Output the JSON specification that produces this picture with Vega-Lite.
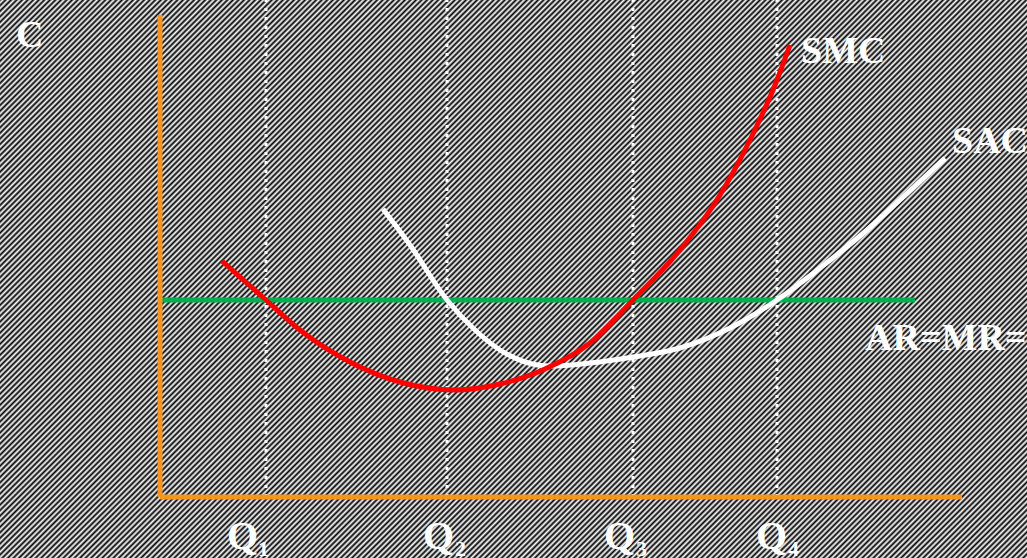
{
  "$schema": "https://vega.github.io/schema/vega-lite/v6.json",
  "width": 1027,
  "height": 558,
  "padding": 0,
  "autosize": "none",
  "background": "#808080",
  "config": {
    "view": {
      "stroke": null,
      "fill": {
        "gradient": "linear",
        "x1": 0, "y1": 0, "x2": 1.1916, "y2": 0.6474,
        "stops": [
{"offset":0,"color":"#000"},{"offset":0.00175,"color":"#fff"},{"offset":0.0035,"color":"#000"},{"offset":0.00525,"color":"#fff"},
{"offset":0.007,"color":"#000"},{"offset":0.00875,"color":"#fff"},{"offset":0.0105,"color":"#000"},{"offset":0.01225,"color":"#fff"},
{"offset":0.014,"color":"#000"},{"offset":0.01575,"color":"#fff"},{"offset":0.0175,"color":"#000"},{"offset":0.01925,"color":"#fff"},
{"offset":0.021,"color":"#000"},{"offset":0.02275,"color":"#fff"},{"offset":0.0245,"color":"#000"},{"offset":0.02625,"color":"#fff"},
{"offset":0.028,"color":"#000"},{"offset":0.02975,"color":"#fff"},{"offset":0.0315,"color":"#000"},{"offset":0.03325,"color":"#fff"},
{"offset":0.035,"color":"#000"},{"offset":0.03675,"color":"#fff"},{"offset":0.0385,"color":"#000"},{"offset":0.04025,"color":"#fff"},
{"offset":0.042,"color":"#000"},{"offset":0.04375,"color":"#fff"},{"offset":0.0455,"color":"#000"},{"offset":0.04725,"color":"#fff"},
{"offset":0.049,"color":"#000"},{"offset":0.05075,"color":"#fff"},{"offset":0.0525,"color":"#000"},{"offset":0.05425,"color":"#fff"},
{"offset":0.056,"color":"#000"},{"offset":0.05775,"color":"#fff"},{"offset":0.0595,"color":"#000"},{"offset":0.06125,"color":"#fff"},
{"offset":0.063,"color":"#000"},{"offset":0.06475,"color":"#fff"},{"offset":0.0665,"color":"#000"},{"offset":0.06825,"color":"#fff"},
{"offset":0.07,"color":"#000"},{"offset":0.07175,"color":"#fff"},{"offset":0.0735,"color":"#000"},{"offset":0.07525,"color":"#fff"},
{"offset":0.077,"color":"#000"},{"offset":0.07875,"color":"#fff"},{"offset":0.0805,"color":"#000"},{"offset":0.08225,"color":"#fff"},
{"offset":0.084,"color":"#000"},{"offset":0.08575,"color":"#fff"},{"offset":0.0875,"color":"#000"},{"offset":0.08925,"color":"#fff"},
{"offset":0.091,"color":"#000"},{"offset":0.09275,"color":"#fff"},{"offset":0.0945,"color":"#000"},{"offset":0.09625,"color":"#fff"},
{"offset":0.098,"color":"#000"},{"offset":0.09975,"color":"#fff"},{"offset":0.1015,"color":"#000"},{"offset":0.10325,"color":"#fff"},
{"offset":0.105,"color":"#000"},{"offset":0.10675,"color":"#fff"},{"offset":0.1085,"color":"#000"},{"offset":0.11025,"color":"#fff"},
{"offset":0.112,"color":"#000"},{"offset":0.11375,"color":"#fff"},{"offset":0.1155,"color":"#000"},{"offset":0.11725,"color":"#fff"},
{"offset":0.119,"color":"#000"},{"offset":0.12075,"color":"#fff"},{"offset":0.1225,"color":"#000"},{"offset":0.12425,"color":"#fff"},
{"offset":0.126,"color":"#000"},{"offset":0.12775,"color":"#fff"},{"offset":0.1295,"color":"#000"},{"offset":0.13125,"color":"#fff"},
{"offset":0.133,"color":"#000"},{"offset":0.13475,"color":"#fff"},{"offset":0.1365,"color":"#000"},{"offset":0.13825,"color":"#fff"},
{"offset":0.14,"color":"#000"},{"offset":0.14175,"color":"#fff"},{"offset":0.1435,"color":"#000"},{"offset":0.14525,"color":"#fff"},
{"offset":0.147,"color":"#000"},{"offset":0.14875,"color":"#fff"},{"offset":0.1505,"color":"#000"},{"offset":0.15225,"color":"#fff"},
{"offset":0.154,"color":"#000"},{"offset":0.15575,"color":"#fff"},{"offset":0.1575,"color":"#000"},{"offset":0.15925,"color":"#fff"},
{"offset":0.161,"color":"#000"},{"offset":0.16275,"color":"#fff"},{"offset":0.1645,"color":"#000"},{"offset":0.16625,"color":"#fff"},
{"offset":0.168,"color":"#000"},{"offset":0.16975,"color":"#fff"},{"offset":0.1715,"color":"#000"},{"offset":0.17325,"color":"#fff"},
{"offset":0.175,"color":"#000"},{"offset":0.17675,"color":"#fff"},{"offset":0.1785,"color":"#000"},{"offset":0.18025,"color":"#fff"},
{"offset":0.182,"color":"#000"},{"offset":0.18375,"color":"#fff"},{"offset":0.1855,"color":"#000"},{"offset":0.18725,"color":"#fff"},
{"offset":0.189,"color":"#000"},{"offset":0.19075,"color":"#fff"},{"offset":0.1925,"color":"#000"},{"offset":0.19425,"color":"#fff"},
{"offset":0.196,"color":"#000"},{"offset":0.19775,"color":"#fff"},{"offset":0.1995,"color":"#000"},{"offset":0.20125,"color":"#fff"},
{"offset":0.203,"color":"#000"},{"offset":0.20475,"color":"#fff"},{"offset":0.2065,"color":"#000"},{"offset":0.20825,"color":"#fff"},
{"offset":0.21,"color":"#000"},{"offset":0.21175,"color":"#fff"},{"offset":0.2135,"color":"#000"},{"offset":0.21525,"color":"#fff"},
{"offset":0.217,"color":"#000"},{"offset":0.21875,"color":"#fff"},{"offset":0.2205,"color":"#000"},{"offset":0.22225,"color":"#fff"},
{"offset":0.224,"color":"#000"},{"offset":0.22575,"color":"#fff"},{"offset":0.2275,"color":"#000"},{"offset":0.22925,"color":"#fff"},
{"offset":0.231,"color":"#000"},{"offset":0.23275,"color":"#fff"},{"offset":0.2345,"color":"#000"},{"offset":0.23625,"color":"#fff"},
{"offset":0.238,"color":"#000"},{"offset":0.23975,"color":"#fff"},{"offset":0.2415,"color":"#000"},{"offset":0.24325,"color":"#fff"},
{"offset":0.245,"color":"#000"},{"offset":0.24675,"color":"#fff"},{"offset":0.2485,"color":"#000"},{"offset":0.25025,"color":"#fff"},
{"offset":0.252,"color":"#000"},{"offset":0.25375,"color":"#fff"},{"offset":0.2555,"color":"#000"},{"offset":0.25725,"color":"#fff"},
{"offset":0.259,"color":"#000"},{"offset":0.26075,"color":"#fff"},{"offset":0.2625,"color":"#000"},{"offset":0.26425,"color":"#fff"},
{"offset":0.266,"color":"#000"},{"offset":0.26775,"color":"#fff"},{"offset":0.2695,"color":"#000"},{"offset":0.27125,"color":"#fff"},
{"offset":0.273,"color":"#000"},{"offset":0.27475,"color":"#fff"},{"offset":0.2765,"color":"#000"},{"offset":0.27825,"color":"#fff"},
{"offset":0.28,"color":"#000"},{"offset":0.28175,"color":"#fff"},{"offset":0.2835,"color":"#000"},{"offset":0.28525,"color":"#fff"},
{"offset":0.287,"color":"#000"},{"offset":0.28875,"color":"#fff"},{"offset":0.2905,"color":"#000"},{"offset":0.29225,"color":"#fff"},
{"offset":0.294,"color":"#000"},{"offset":0.29575,"color":"#fff"},{"offset":0.2975,"color":"#000"},{"offset":0.29925,"color":"#fff"},
{"offset":0.301,"color":"#000"},{"offset":0.30275,"color":"#fff"},{"offset":0.3045,"color":"#000"},{"offset":0.30625,"color":"#fff"},
{"offset":0.308,"color":"#000"},{"offset":0.30975,"color":"#fff"},{"offset":0.3115,"color":"#000"},{"offset":0.31325,"color":"#fff"},
{"offset":0.315,"color":"#000"},{"offset":0.31675,"color":"#fff"},{"offset":0.3185,"color":"#000"},{"offset":0.32025,"color":"#fff"},
{"offset":0.322,"color":"#000"},{"offset":0.32375,"color":"#fff"},{"offset":0.3255,"color":"#000"},{"offset":0.32725,"color":"#fff"},
{"offset":0.329,"color":"#000"},{"offset":0.33075,"color":"#fff"},{"offset":0.3325,"color":"#000"},{"offset":0.33425,"color":"#fff"},
{"offset":0.336,"color":"#000"},{"offset":0.33775,"color":"#fff"},{"offset":0.3395,"color":"#000"},{"offset":0.34125,"color":"#fff"},
{"offset":0.343,"color":"#000"},{"offset":0.34475,"color":"#fff"},{"offset":0.3465,"color":"#000"},{"offset":0.34825,"color":"#fff"},
{"offset":0.35,"color":"#000"},{"offset":0.35175,"color":"#fff"},{"offset":0.3535,"color":"#000"},{"offset":0.35525,"color":"#fff"},
{"offset":0.357,"color":"#000"},{"offset":0.35875,"color":"#fff"},{"offset":0.3605,"color":"#000"},{"offset":0.36225,"color":"#fff"},
{"offset":0.364,"color":"#000"},{"offset":0.36575,"color":"#fff"},{"offset":0.3675,"color":"#000"},{"offset":0.36925,"color":"#fff"},
{"offset":0.371,"color":"#000"},{"offset":0.37275,"color":"#fff"},{"offset":0.3745,"color":"#000"},{"offset":0.37625,"color":"#fff"},
{"offset":0.378,"color":"#000"},{"offset":0.37975,"color":"#fff"},{"offset":0.3815,"color":"#000"},{"offset":0.38325,"color":"#fff"},
{"offset":0.385,"color":"#000"},{"offset":0.38675,"color":"#fff"},{"offset":0.3885,"color":"#000"},{"offset":0.39025,"color":"#fff"},
{"offset":0.392,"color":"#000"},{"offset":0.39375,"color":"#fff"},{"offset":0.3955,"color":"#000"},{"offset":0.39725,"color":"#fff"},
{"offset":0.399,"color":"#000"},{"offset":0.40075,"color":"#fff"},{"offset":0.4025,"color":"#000"},{"offset":0.40425,"color":"#fff"},
{"offset":0.406,"color":"#000"},{"offset":0.40775,"color":"#fff"},{"offset":0.4095,"color":"#000"},{"offset":0.41125,"color":"#fff"},
{"offset":0.413,"color":"#000"},{"offset":0.41475,"color":"#fff"},{"offset":0.4165,"color":"#000"},{"offset":0.41825,"color":"#fff"},
{"offset":0.42,"color":"#000"},{"offset":0.42175,"color":"#fff"},{"offset":0.4235,"color":"#000"},{"offset":0.42525,"color":"#fff"},
{"offset":0.427,"color":"#000"},{"offset":0.42875,"color":"#fff"},{"offset":0.4305,"color":"#000"},{"offset":0.43225,"color":"#fff"},
{"offset":0.434,"color":"#000"},{"offset":0.43575,"color":"#fff"},{"offset":0.4375,"color":"#000"},{"offset":0.43925,"color":"#fff"},
{"offset":0.441,"color":"#000"},{"offset":0.44275,"color":"#fff"},{"offset":0.4445,"color":"#000"},{"offset":0.44625,"color":"#fff"},
{"offset":0.448,"color":"#000"},{"offset":0.44975,"color":"#fff"},{"offset":0.4515,"color":"#000"},{"offset":0.45325,"color":"#fff"},
{"offset":0.455,"color":"#000"},{"offset":0.45675,"color":"#fff"},{"offset":0.4585,"color":"#000"},{"offset":0.46025,"color":"#fff"},
{"offset":0.462,"color":"#000"},{"offset":0.46375,"color":"#fff"},{"offset":0.4655,"color":"#000"},{"offset":0.46725,"color":"#fff"},
{"offset":0.469,"color":"#000"},{"offset":0.47075,"color":"#fff"},{"offset":0.4725,"color":"#000"},{"offset":0.47425,"color":"#fff"},
{"offset":0.476,"color":"#000"},{"offset":0.47775,"color":"#fff"},{"offset":0.4795,"color":"#000"},{"offset":0.48125,"color":"#fff"},
{"offset":0.483,"color":"#000"},{"offset":0.48475,"color":"#fff"},{"offset":0.4865,"color":"#000"},{"offset":0.48825,"color":"#fff"},
{"offset":0.49,"color":"#000"},{"offset":0.49175,"color":"#fff"},{"offset":0.4935,"color":"#000"},{"offset":0.49525,"color":"#fff"},
{"offset":0.497,"color":"#000"},{"offset":0.49875,"color":"#fff"},{"offset":0.5005,"color":"#000"},{"offset":0.50225,"color":"#fff"},
{"offset":0.504,"color":"#000"},{"offset":0.50575,"color":"#fff"},{"offset":0.5075,"color":"#000"},{"offset":0.50925,"color":"#fff"},
{"offset":0.511,"color":"#000"},{"offset":0.51275,"color":"#fff"},{"offset":0.5145,"color":"#000"},{"offset":0.51625,"color":"#fff"},
{"offset":0.518,"color":"#000"},{"offset":0.51975,"color":"#fff"},{"offset":0.5215,"color":"#000"},{"offset":0.52325,"color":"#fff"},
{"offset":0.525,"color":"#000"},{"offset":0.52675,"color":"#fff"},{"offset":0.5285,"color":"#000"},{"offset":0.53025,"color":"#fff"},
{"offset":0.532,"color":"#000"},{"offset":0.53375,"color":"#fff"},{"offset":0.5355,"color":"#000"},{"offset":0.53725,"color":"#fff"},
{"offset":0.539,"color":"#000"},{"offset":0.54075,"color":"#fff"},{"offset":0.5425,"color":"#000"},{"offset":0.54425,"color":"#fff"},
{"offset":0.546,"color":"#000"},{"offset":0.54775,"color":"#fff"},{"offset":0.5495,"color":"#000"},{"offset":0.55125,"color":"#fff"},
{"offset":0.553,"color":"#000"},{"offset":0.55475,"color":"#fff"},{"offset":0.5565,"color":"#000"},{"offset":0.55825,"color":"#fff"},
{"offset":0.56,"color":"#000"},{"offset":0.56175,"color":"#fff"},{"offset":0.5635,"color":"#000"},{"offset":0.56525,"color":"#fff"},
{"offset":0.567,"color":"#000"},{"offset":0.56875,"color":"#fff"},{"offset":0.5705,"color":"#000"},{"offset":0.57225,"color":"#fff"},
{"offset":0.574,"color":"#000"},{"offset":0.57575,"color":"#fff"},{"offset":0.5775,"color":"#000"},{"offset":0.57925,"color":"#fff"},
{"offset":0.581,"color":"#000"},{"offset":0.58275,"color":"#fff"},{"offset":0.5845,"color":"#000"},{"offset":0.58625,"color":"#fff"},
{"offset":0.588,"color":"#000"},{"offset":0.58975,"color":"#fff"},{"offset":0.5915,"color":"#000"},{"offset":0.59325,"color":"#fff"},
{"offset":0.595,"color":"#000"},{"offset":0.59675,"color":"#fff"},{"offset":0.5985,"color":"#000"},{"offset":0.60025,"color":"#fff"},
{"offset":0.602,"color":"#000"},{"offset":0.60375,"color":"#fff"},{"offset":0.6055,"color":"#000"},{"offset":0.60725,"color":"#fff"},
{"offset":0.609,"color":"#000"},{"offset":0.61075,"color":"#fff"},{"offset":0.6125,"color":"#000"},{"offset":0.61425,"color":"#fff"},
{"offset":0.616,"color":"#000"},{"offset":0.61775,"color":"#fff"},{"offset":0.6195,"color":"#000"},{"offset":0.62125,"color":"#fff"},
{"offset":0.623,"color":"#000"},{"offset":0.62475,"color":"#fff"},{"offset":0.6265,"color":"#000"},{"offset":0.62825,"color":"#fff"},
{"offset":0.63,"color":"#000"},{"offset":0.63175,"color":"#fff"},{"offset":0.6335,"color":"#000"},{"offset":0.63525,"color":"#fff"},
{"offset":0.637,"color":"#000"},{"offset":0.63875,"color":"#fff"},{"offset":0.6405,"color":"#000"},{"offset":0.64225,"color":"#fff"},
{"offset":0.644,"color":"#000"},{"offset":0.64575,"color":"#fff"},{"offset":0.6475,"color":"#000"},{"offset":0.64925,"color":"#fff"},
{"offset":0.651,"color":"#000"},{"offset":0.65275,"color":"#fff"},{"offset":0.6545,"color":"#000"},{"offset":0.65625,"color":"#fff"},
{"offset":0.658,"color":"#000"},{"offset":0.65975,"color":"#fff"},{"offset":0.6615,"color":"#000"},{"offset":0.66325,"color":"#fff"},
{"offset":0.665,"color":"#000"},{"offset":0.66675,"color":"#fff"},{"offset":0.6685,"color":"#000"},{"offset":0.67025,"color":"#fff"},
{"offset":0.672,"color":"#000"},{"offset":0.67375,"color":"#fff"},{"offset":0.6755,"color":"#000"},{"offset":0.67725,"color":"#fff"},
{"offset":0.679,"color":"#000"},{"offset":0.68075,"color":"#fff"},{"offset":0.6825,"color":"#000"},{"offset":0.68425,"color":"#fff"},
{"offset":0.686,"color":"#000"},{"offset":0.68775,"color":"#fff"},{"offset":0.6895,"color":"#000"},{"offset":0.69125,"color":"#fff"},
{"offset":0.693,"color":"#000"},{"offset":0.69475,"color":"#fff"},{"offset":0.6965,"color":"#000"},{"offset":0.69825,"color":"#fff"},
{"offset":0.7,"color":"#000"},{"offset":0.70175,"color":"#fff"},{"offset":0.7035,"color":"#000"},{"offset":0.70525,"color":"#fff"},
{"offset":0.707,"color":"#000"},{"offset":0.70875,"color":"#fff"},{"offset":0.7105,"color":"#000"},{"offset":0.71225,"color":"#fff"},
{"offset":0.714,"color":"#000"},{"offset":0.71575,"color":"#fff"},{"offset":0.7175,"color":"#000"},{"offset":0.71925,"color":"#fff"},
{"offset":0.721,"color":"#000"},{"offset":0.72275,"color":"#fff"},{"offset":0.7245,"color":"#000"},{"offset":0.72625,"color":"#fff"},
{"offset":0.728,"color":"#000"},{"offset":0.72975,"color":"#fff"},{"offset":0.7315,"color":"#000"},{"offset":0.73325,"color":"#fff"},
{"offset":0.735,"color":"#000"},{"offset":0.73675,"color":"#fff"},{"offset":0.7385,"color":"#000"},{"offset":0.74025,"color":"#fff"},
{"offset":0.742,"color":"#000"},{"offset":0.74375,"color":"#fff"},{"offset":0.7455,"color":"#000"},{"offset":0.74725,"color":"#fff"},
{"offset":0.749,"color":"#000"},{"offset":0.75075,"color":"#fff"},{"offset":0.7525,"color":"#000"},{"offset":0.75425,"color":"#fff"},
{"offset":0.756,"color":"#000"},{"offset":0.75775,"color":"#fff"},{"offset":0.7595,"color":"#000"},{"offset":0.76125,"color":"#fff"},
{"offset":0.763,"color":"#000"},{"offset":0.76475,"color":"#fff"},{"offset":0.7665,"color":"#000"},{"offset":0.76825,"color":"#fff"},
{"offset":0.77,"color":"#000"},{"offset":0.77175,"color":"#fff"},{"offset":0.7735,"color":"#000"},{"offset":0.77525,"color":"#fff"},
{"offset":0.777,"color":"#000"},{"offset":0.77875,"color":"#fff"},{"offset":0.7805,"color":"#000"},{"offset":0.78225,"color":"#fff"},
{"offset":0.784,"color":"#000"},{"offset":0.78575,"color":"#fff"},{"offset":0.7875,"color":"#000"},{"offset":0.78925,"color":"#fff"},
{"offset":0.791,"color":"#000"},{"offset":0.79275,"color":"#fff"},{"offset":0.7945,"color":"#000"},{"offset":0.79625,"color":"#fff"},
{"offset":0.798,"color":"#000"},{"offset":0.79975,"color":"#fff"},{"offset":0.8015,"color":"#000"},{"offset":0.80325,"color":"#fff"},
{"offset":0.805,"color":"#000"},{"offset":0.80675,"color":"#fff"},{"offset":0.8085,"color":"#000"},{"offset":0.81025,"color":"#fff"},
{"offset":0.812,"color":"#000"},{"offset":0.81375,"color":"#fff"},{"offset":0.8155,"color":"#000"},{"offset":0.81725,"color":"#fff"},
{"offset":0.819,"color":"#000"},{"offset":0.82075,"color":"#fff"},{"offset":0.8225,"color":"#000"},{"offset":0.82425,"color":"#fff"},
{"offset":0.826,"color":"#000"},{"offset":0.82775,"color":"#fff"},{"offset":0.8295,"color":"#000"},{"offset":0.83125,"color":"#fff"},
{"offset":0.833,"color":"#000"},{"offset":0.83475,"color":"#fff"},{"offset":0.8365,"color":"#000"},{"offset":0.83825,"color":"#fff"},
{"offset":0.84,"color":"#000"},{"offset":0.84175,"color":"#fff"},{"offset":0.8435,"color":"#000"},{"offset":0.84525,"color":"#fff"},
{"offset":0.847,"color":"#000"},{"offset":0.84875,"color":"#fff"},{"offset":0.8505,"color":"#000"},{"offset":0.85225,"color":"#fff"},
{"offset":0.854,"color":"#000"},{"offset":0.85575,"color":"#fff"},{"offset":0.8575,"color":"#000"},{"offset":0.85925,"color":"#fff"},
{"offset":0.861,"color":"#000"},{"offset":0.86275,"color":"#fff"},{"offset":0.8645,"color":"#000"},{"offset":0.86625,"color":"#fff"},
{"offset":0.868,"color":"#000"},{"offset":0.86975,"color":"#fff"},{"offset":0.8715,"color":"#000"},{"offset":0.87325,"color":"#fff"},
{"offset":0.875,"color":"#000"},{"offset":0.87675,"color":"#fff"},{"offset":0.8785,"color":"#000"},{"offset":0.88025,"color":"#fff"},
{"offset":0.882,"color":"#000"},{"offset":0.88375,"color":"#fff"},{"offset":0.8855,"color":"#000"},{"offset":0.88725,"color":"#fff"},
{"offset":0.889,"color":"#000"},{"offset":0.89075,"color":"#fff"},{"offset":0.8925,"color":"#000"},{"offset":0.89425,"color":"#fff"},
{"offset":0.896,"color":"#000"},{"offset":0.89775,"color":"#fff"},{"offset":0.8995,"color":"#000"},{"offset":0.90125,"color":"#fff"},
{"offset":0.903,"color":"#000"},{"offset":0.90475,"color":"#fff"},{"offset":0.9065,"color":"#000"},{"offset":0.90825,"color":"#fff"},
{"offset":0.91,"color":"#000"},{"offset":0.91175,"color":"#fff"},{"offset":0.9135,"color":"#000"},{"offset":0.91525,"color":"#fff"},
{"offset":0.917,"color":"#000"},{"offset":0.91875,"color":"#fff"},{"offset":0.9205,"color":"#000"},{"offset":0.92225,"color":"#fff"},
{"offset":0.924,"color":"#000"},{"offset":0.92575,"color":"#fff"},{"offset":0.9275,"color":"#000"},{"offset":0.92925,"color":"#fff"},
{"offset":0.931,"color":"#000"},{"offset":0.93275,"color":"#fff"},{"offset":0.9345,"color":"#000"},{"offset":0.93625,"color":"#fff"},
{"offset":0.938,"color":"#000"},{"offset":0.93975,"color":"#fff"},{"offset":0.9415,"color":"#000"},{"offset":0.94325,"color":"#fff"},
{"offset":0.945,"color":"#000"},{"offset":0.94675,"color":"#fff"},{"offset":0.9485,"color":"#000"},{"offset":0.95025,"color":"#fff"},
{"offset":0.952,"color":"#000"},{"offset":0.95375,"color":"#fff"},{"offset":0.9555,"color":"#000"},{"offset":0.95725,"color":"#fff"},
{"offset":0.959,"color":"#000"},{"offset":0.96075,"color":"#fff"},{"offset":0.9625,"color":"#000"},{"offset":0.96425,"color":"#fff"},
{"offset":0.966,"color":"#000"},{"offset":0.96775,"color":"#fff"},{"offset":0.9695,"color":"#000"},{"offset":0.97125,"color":"#fff"},
{"offset":0.973,"color":"#000"},{"offset":0.97475,"color":"#fff"},{"offset":0.9765,"color":"#000"},{"offset":0.97825,"color":"#fff"},
{"offset":0.98,"color":"#000"},{"offset":0.98175,"color":"#fff"},{"offset":0.9835,"color":"#000"},{"offset":0.98525,"color":"#fff"},
{"offset":0.987,"color":"#000"},{"offset":0.98875,"color":"#fff"},{"offset":0.9905,"color":"#000"},{"offset":0.99225,"color":"#fff"},
{"offset":0.994,"color":"#000"},{"offset":0.99575,"color":"#fff"},{"offset":0.9975,"color":"#000"},{"offset":0.99925,"color":"#fff"},
{"offset":1,"color":"#000"}
        ]
      }
    }
  },
  "datasets": {
    "axes": [
      {"x": 0, "y": 0, "x2": 0, "y2": 482},
      {"x": 0, "y": 0, "x2": 802, "y2": 0}
    ],
    "qlines": [{"x": 106}, {"x": 287}, {"x": 473}, {"x": 617}],
    "price": [{"x": 0, "y": 197, "x2": 755}],
    "smc": [
      {"x": 62, "y": 236}, {"x": 106, "y": 197}, {"x": 140, "y": 167},
      {"x": 190, "y": 135}, {"x": 240, "y": 115}, {"x": 295, "y": 107},
      {"x": 340, "y": 113}, {"x": 385, "y": 128}, {"x": 430, "y": 154},
      {"x": 473, "y": 197}, {"x": 520, "y": 247}, {"x": 560, "y": 302},
      {"x": 590, "y": 357}, {"x": 615, "y": 412}, {"x": 630, "y": 452}
    ],
    "sac": [
      {"x": 223, "y": 288}, {"x": 250, "y": 252}, {"x": 287, "y": 197},
      {"x": 315, "y": 167}, {"x": 340, "y": 147}, {"x": 365, "y": 135},
      {"x": 390, "y": 131}, {"x": 430, "y": 134}, {"x": 473, "y": 140},
      {"x": 520, "y": 149}, {"x": 570, "y": 169}, {"x": 617, "y": 197},
      {"x": 660, "y": 229}, {"x": 700, "y": 261}, {"x": 740, "y": 297},
      {"x": 785, "y": 339}
    ],
    "labels": [
      {"label": "C", "x": -144, "y": 450},
      {"label": "SMC", "x": 641, "y": 434},
      {"label": "SAC", "x": 792, "y": 344},
      {"label": "AR=MR=P", "x": 705, "y": 147}
    ],
    "qlabels": [
      {"q": "Q", "sub": "1", "x": 67, "xs": 98},
      {"q": "Q", "sub": "2", "x": 263, "xs": 295},
      {"q": "Q", "sub": "3", "x": 444, "xs": 476},
      {"q": "Q", "sub": "4", "x": 596, "xs": 628}
    ]
  },
  "layer": [
    {
      "data": {"name": "qlines"},
      "mark": {"type": "rule", "color": "#ffffff", "strokeWidth": 3, "strokeDash": [3, 6]},
      "encoding": {
        "x": {"field": "x", "type": "quantitative", "scale": {"domain": [-160, 867], "nice": false, "zero": false}, "axis": null},
        "y": {"datum": 0, "type": "quantitative", "scale": {"domain": [-61, 497], "nice": false, "zero": false}, "axis": null},
        "y2": {"datum": 497}
      }
    },
    {
      "data": {"name": "price"},
      "mark": {"type": "rule", "color": "#00b050", "strokeWidth": 5},
      "encoding": {
        "x": {"field": "x", "type": "quantitative", "scale": {"domain": [-160, 867], "nice": false, "zero": false}, "axis": null},
        "x2": {"field": "x2"},
        "y": {"field": "y", "type": "quantitative", "scale": {"domain": [-61, 497], "nice": false, "zero": false}, "axis": null}
      }
    },
    {
      "data": {"name": "axes"},
      "mark": {"type": "rule", "color": "#f7941d", "strokeWidth": 5},
      "encoding": {
        "x": {"field": "x", "type": "quantitative", "scale": {"domain": [-160, 867], "nice": false, "zero": false}, "axis": null},
        "x2": {"field": "x2"},
        "y": {"field": "y", "type": "quantitative", "scale": {"domain": [-61, 497], "nice": false, "zero": false}, "axis": null},
        "y2": {"field": "y2"}
      }
    },
    {
      "data": {"name": "sac"},
      "mark": {"type": "line", "color": "#ffffff", "strokeWidth": 5, "interpolate": "monotone"},
      "encoding": {
        "x": {"field": "x", "type": "quantitative", "scale": {"domain": [-160, 867], "nice": false, "zero": false}, "axis": null},
        "y": {"field": "y", "type": "quantitative", "scale": {"domain": [-61, 497], "nice": false, "zero": false}, "axis": null}
      }
    },
    {
      "data": {"name": "smc"},
      "mark": {"type": "line", "color": "#ff0000", "strokeWidth": 5, "interpolate": "monotone"},
      "encoding": {
        "x": {"field": "x", "type": "quantitative", "scale": {"domain": [-160, 867], "nice": false, "zero": false}, "axis": null},
        "y": {"field": "y", "type": "quantitative", "scale": {"domain": [-61, 497], "nice": false, "zero": false}, "axis": null}
      }
    },
    {
      "data": {"name": "labels"},
      "mark": {"type": "text", "color": "#ffffff", "font": "Liberation Serif", "fontWeight": "bold", "fontSize": 38, "align": "left", "baseline": "alphabetic"},
      "encoding": {
        "x": {"field": "x", "type": "quantitative", "scale": {"domain": [-160, 867], "nice": false, "zero": false}, "axis": null},
        "y": {"field": "y", "type": "quantitative", "scale": {"domain": [-61, 497], "nice": false, "zero": false}, "axis": null},
        "text": {"field": "label"}
      }
    },
    {
      "data": {"name": "qlabels"},
      "mark": {"type": "text", "color": "#ffffff", "font": "Liberation Serif", "fontWeight": "bold", "fontSize": 40, "align": "left", "baseline": "alphabetic"},
      "encoding": {
        "x": {"field": "x", "type": "quantitative", "scale": {"domain": [-160, 867], "nice": false, "zero": false}, "axis": null},
        "y": {"datum": -52, "type": "quantitative", "scale": {"domain": [-61, 497], "nice": false, "zero": false}, "axis": null},
        "text": {"field": "q"}
      }
    },
    {
      "data": {"name": "qlabels"},
      "mark": {"type": "text", "color": "#ffffff", "font": "Liberation Serif", "fontWeight": "bold", "fontSize": 22, "align": "left", "baseline": "alphabetic"},
      "encoding": {
        "x": {"field": "xs", "type": "quantitative", "scale": {"domain": [-160, 867], "nice": false, "zero": false}, "axis": null},
        "y": {"datum": -59, "type": "quantitative", "scale": {"domain": [-61, 497], "nice": false, "zero": false}, "axis": null},
        "text": {"field": "sub"}
      }
    }
  ]
}
